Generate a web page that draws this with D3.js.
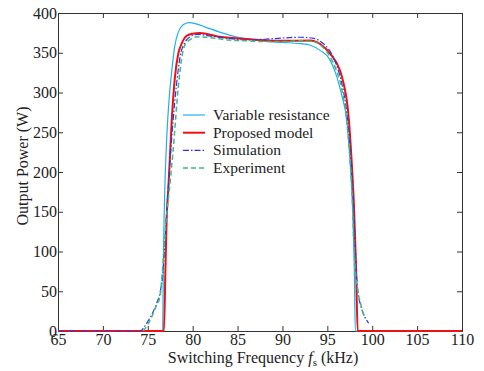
<!DOCTYPE html>
<html>
<head>
<meta charset="utf-8">
<script src="https://cdn.jsdelivr.net/npm/d3@7"></script>
<style>
  body { margin: 0; background: #fff; }
  svg text { font-family: "Liberation Serif", "Times New Roman", serif; fill: #222; }
</style>
</head>
<body>
<div id="chart"></div>
<script>
// x = switching frequency (kHz), y = output power (W)
const variableResistance = [
  [65, 0], [76.65, 0], [76.75, 100], [76.9, 180], [77.1, 240], [77.4, 295], [77.7, 330],
  [78.0, 358], [78.4, 376], [78.9, 385], [79.6, 388], [80.5, 386], [81.5, 382], [83, 376],
  [84.5, 371], [86.4, 367], [88, 364.5], [90, 363], [92, 361.5], [93.1, 359.5], [94.2, 353],
  [95.3, 341], [96.05, 320], [96.6, 297], [97.16, 265], [97.55, 210], [97.83, 150],
  [98.0, 80], [98.12, 0], [110, 0]
];
const proposedModel = [
  [65, 0], [76.8, 0], [76.95, 70], [77.1, 140], [77.3, 181], [77.67, 265], [78.03, 320],
  [78.4, 349], [78.8, 362], [79.3, 371], [80.0, 374], [80.8, 375], [83, 370], [86.4, 367],
  [90, 365], [93.1, 365.5], [94.2, 361], [95.3, 349], [96.4, 328], [96.8, 312], [97.35, 272],
  [97.7, 215], [97.97, 156], [98.2, 80], [98.38, 0], [110, 0]
];
const simulation = [
  [65, 0], [74.2, 0], [74.6, 5], [75.0, 12], [75.5, 22], [76.0, 35], [76.4, 50], [76.7, 75],
  [76.9, 110], [77.1, 150], [77.4, 200], [77.8, 262], [78.2, 310], [78.6, 345], [79.1, 362],
  [79.7, 370], [80.5, 373], [82, 371], [84, 368], [86, 366], [88, 367], [90, 368.5], [92, 369.5],
  [93.5, 368], [94.5, 362], [95.3, 352], [96.0, 335], [96.6, 312], [97.1, 280], [97.6, 220],
  [97.95, 150], [98.2, 80], [98.4, 50], [98.7, 33], [99.0, 22], [99.3, 15], [99.6, 10]
];
const experiment = [
  [74.5, 0], [75.0, 8], [75.6, 22], [76.0, 33], [76.36, 43], [76.55, 64], [76.8, 102],
  [77.05, 140], [77.35, 172], [77.8, 224], [78.4, 307], [78.8, 345], [79.15, 360], [79.8, 367],
  [80.5, 370], [82, 369], [84, 366], [86, 365], [88, 364], [90, 364], [92, 365], [93.5, 364],
  [94.5, 357], [95.3, 345], [96.0, 328], [96.6, 305], [97.1, 270], [97.5, 220], [97.8, 160],
  [97.95, 110], [98.1, 80], [98.4, 50], [98.7, 35], [99.0, 22], [99.2, 17]
];

const xTicks = [65, 70, 75, 80, 85, 90, 95, 100, 105, 110];
const yTicks = [0, 50, 100, 150, 200, 250, 300, 350, 400];

const seriesNames = ['Variable resistance', 'Proposed model', 'Simulation', 'Experiment'];

var margin = {top: 13, right: 22, bottom: 40, left: 58},
  width = 484 - margin.left - margin.right,
  height = 371 - margin.top - margin.bottom;

var x = d3.scaleLinear().domain([65, 110]).range([0, width]);
var y = d3.scaleLinear().domain([0, 400]).range([height, 0]);

var svg = d3.select('#chart')
  .append('svg')
  .attr('width', 484)
  .attr('height', 371)
  .append('g')
  .attr('transform', `translate(${margin.left},${margin.top})`);

// Axes, ticks pointing inward, mirrored on top/right
svg.append('g')
  .attr('class', 'x axis')
  .attr('transform', `translate(0,${height})`)
  .call(d3.axisBottom(x).tickValues(xTicks).tickSize(-5).tickPadding(3));
svg.append('g')
  .attr('class', 'x2 axis')
  .call(d3.axisTop(x).tickValues(xTicks).tickSize(-5).tickFormat(''));
svg.append('g')
  .attr('class', 'y axis')
  .call(d3.axisLeft(y).tickValues(yTicks).tickSize(-5).tickPadding(1));
svg.append('g')
  .attr('class', 'y2 axis')
  .attr('transform', `translate(${width},0)`)
  .call(d3.axisRight(y).tickValues(yTicks).tickSize(-5).tickFormat(''));

svg.selectAll('.axis path, .axis line').attr('stroke', '#333');
svg.selectAll('.axis text')
  .style('font-family', '"Liberation Serif", serif')
  .style('font-size', '16px')
  .attr('fill', '#222');

var line = d3.line()
  .x(d => x(d[0]))
  .y(d => y(d[1]))
  .curve(d3.curveMonotoneX);

const styles = [
  {data: variableResistance, color: '#1fb0ec', width: 1.2, dash: null},
  {data: proposedModel, color: '#ee1111', width: 2, dash: null},
  {data: simulation, color: '#2b35f0', width: 1.2, dash: '6,2,1.5,2'},
  {data: experiment, color: '#3dbb78', width: 1.5, dash: '5,3'}
];

styles.forEach(s => {
  svg.append('path')
    .attr('fill', 'none')
    .attr('stroke', s.color)
    .attr('stroke-width', s.width)
    .attr('stroke-dasharray', s.dash)
    .attr('d', line(s.data));
});

// Legend
var legend = svg.append('g').attr('transform', `translate(${183 - margin.left},${115 - margin.top})`);
seriesNames.forEach((name, i) => {
  var s = styles[i];
  legend.append('line')
    .attr('x1', 0).attr('x2', 22)
    .attr('y1', i * 17.7).attr('y2', i * 17.7)
    .attr('stroke', s.color)
    .attr('stroke-width', s.width)
    .attr('stroke-dasharray', s.dash);
  legend.append('text')
    .attr('x', 30)
    .attr('y', i * 17.7)
    .attr('dy', '0.32em')
    .style('font-size', '15.5px')
    .text(name);
});

// Axis titles
svg.append('text')
  .attr('transform', `translate(${22 - margin.left},${166 - margin.top}) rotate(-90)`)
  .attr('text-anchor', 'middle')
  .attr('dy', '0.35em')
  .style('font-size', '16px')
  .text('Output Power (W)');

var xt = svg.append('text')
  .attr('x', 263 - margin.left)
  .attr('y', 363 - margin.top)
  .attr('text-anchor', 'middle')
  .style('font-size', '16px');
xt.append('tspan').text('Switching Frequency ');
xt.append('tspan').style('font-style', 'italic').text('f');
xt.append('tspan').attr('dy', 3).style('font-size', '11px').text('s');
xt.append('tspan').attr('dy', -3).text(' (kHz)');
</script>
</body>
</html>
